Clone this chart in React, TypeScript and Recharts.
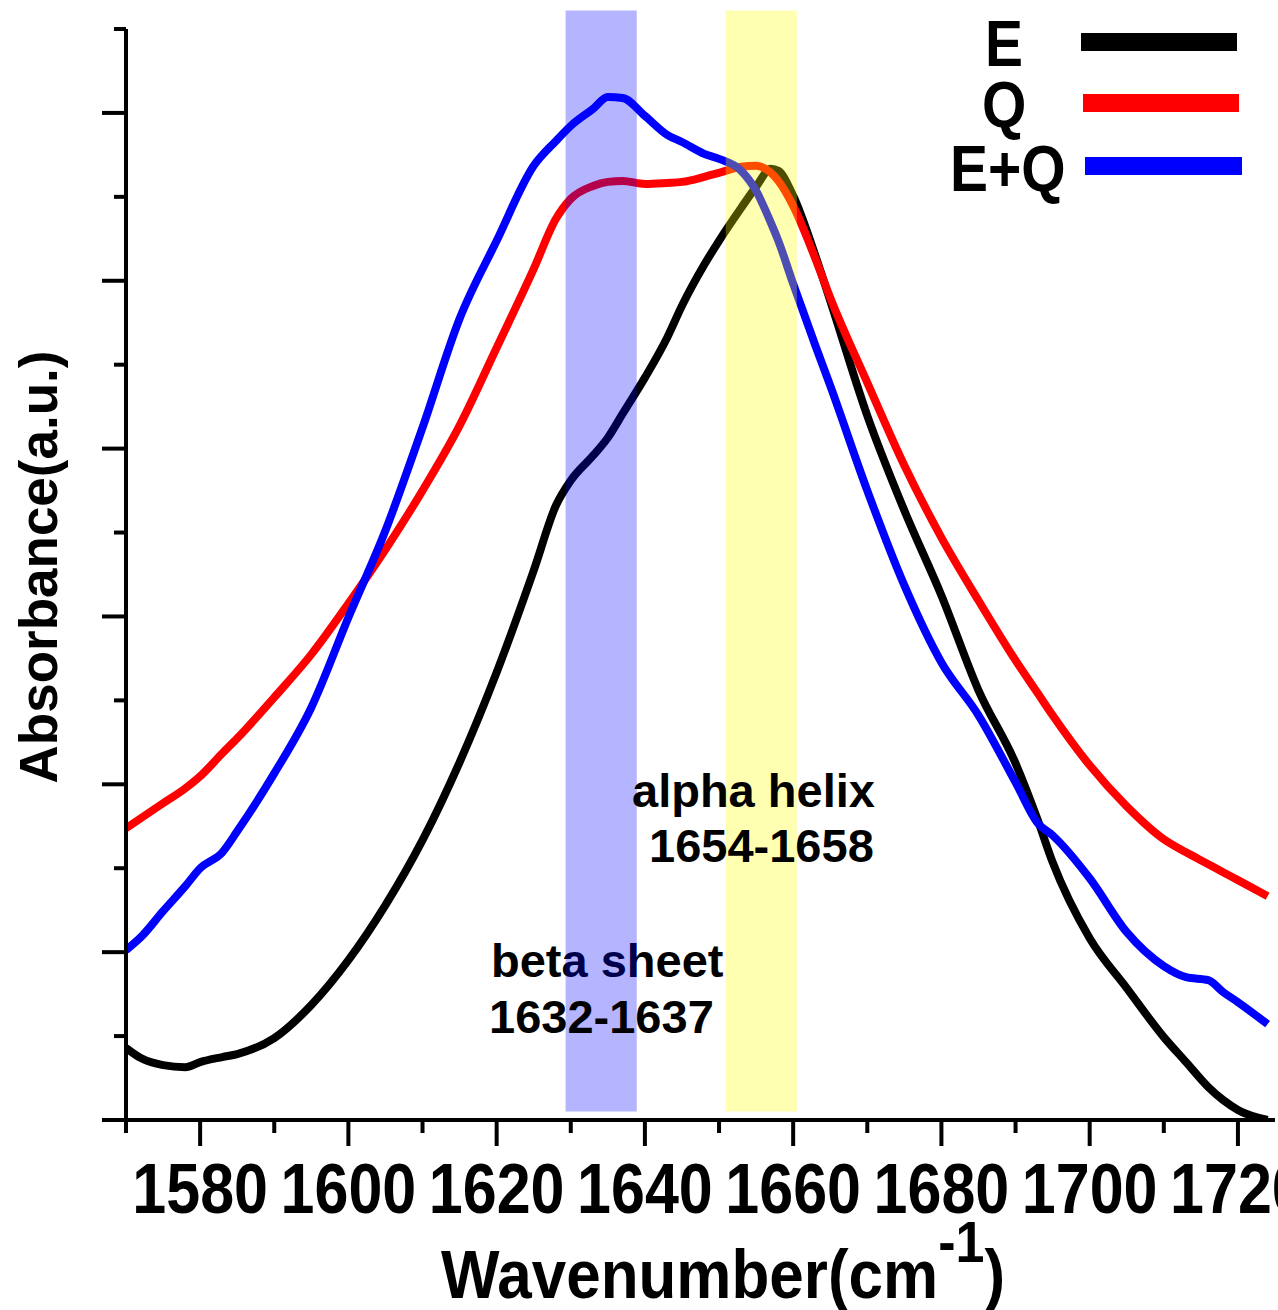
import React from 'react';
import { LineChart, Line, XAxis, YAxis, ReferenceArea } from 'recharts';

const wavenumbers = [
  1570, 1572, 1575, 1578, 1580, 1583, 1585, 1590, 1595, 1600, 1605, 1610, 1615, 1620, 1625, 1628,
  1630, 1633, 1635, 1637, 1640, 1643, 1645, 1648, 1650, 1653, 1655, 1657, 1658, 1660, 1663, 1665,
  1670, 1675, 1680, 1685, 1690, 1693, 1695, 1700, 1705, 1710, 1713, 1716, 1718, 1720, 1724,
];

const absE = [
  0.429, 0.369, 0.327, 0.315, 0.345, 0.375, 0.393, 0.488, 0.685, 0.952, 1.28, 1.667, 2.131, 2.667, 3.274, 3.661,
  3.81, 3.958, 4.065, 4.208, 4.423, 4.661, 4.851, 5.095, 5.238, 5.435, 5.56, 5.667, 5.655, 5.506, 5.149, 4.881,
  4.196, 3.631, 3.125, 2.56, 2.125, 1.786, 1.536, 1.083, 0.786, 0.494, 0.345, 0.196, 0.119, 0.06, 0.0,
];

const absQ = [
  1.738, 1.798, 1.887, 1.976, 2.048, 2.185, 2.274, 2.518, 2.774, 3.077, 3.399, 3.75, 4.137, 4.601, 5.071, 5.369,
  5.488, 5.565, 5.589, 5.595, 5.577, 5.583, 5.589, 5.619, 5.643, 5.679, 5.685, 5.643, 5.595, 5.446, 5.131, 4.899,
  4.393, 3.899, 3.47, 3.095, 2.738, 2.542, 2.411, 2.113, 1.869, 1.673, 1.595, 1.524, 1.476, 1.429, 1.333,
];

const absEQ = [
  1.012, 1.089, 1.244, 1.393, 1.5, 1.595, 1.72, 2.065, 2.458, 2.994, 3.512, 4.125, 4.774, 5.238, 5.685, 5.833,
  5.923, 6.024, 6.095, 6.089, 5.982, 5.869, 5.827, 5.756, 5.726, 5.655, 5.536, 5.345, 5.238, 4.982, 4.613, 4.375,
  3.75, 3.185, 2.726, 2.411, 2.012, 1.768, 1.696, 1.44, 1.119, 0.917, 0.851, 0.833, 0.762, 0.702, 0.571,
];

const xTicks = [1570, 1580, 1590, 1600, 1610, 1620, 1630, 1640, 1650, 1660, 1670, 1680, 1690, 1700, 1710, 1720];
const yTicks = [0, 0.5, 1, 1.5, 2, 2.5, 3, 3.5, 4, 4.5, 5, 5.5, 6, 6.5];

const betaBand = [1629.3, 1638.9];
const alphaBand = [1650.9, 1660.5];

const data = wavenumbers.map((w, i) => ({ w, E: absE[i], Q: absQ[i], EQ: absEQ[i] }));

const FONT = '"Liberation Sans", Arial, sans-serif';

const XTick = (props: any) => {
  const { x, y, payload } = props;
  const v = payload.value;
  const major = v % 20 === 0;
  return (
    <g>
      <line x1={x} x2={x} y1={y} y2={y + (major ? 26 : 13)} stroke="#000" strokeWidth={4} />
      {major && (
        <text
          transform={`translate(${x},${y + 93}) scale(1,1.15)`}
          textAnchor="middle"
          fontFamily={FONT}
          fontWeight="bold"
          fontSize={61}
          fill="#000"
        >
          {v}
        </text>
      )}
    </g>
  );
};

const YTick = (props: any) => {
  const { x, y, payload } = props;
  const major = Number.isInteger(payload.value);
  return <line x1={x - (major ? 24 : 12)} x2={x} y1={y} y2={y} stroke="#000" strokeWidth={4} />;
};

const txt = { fontFamily: FONT, fontWeight: 'bold' as const, fill: '#000' };

export default function App() {
  return (
    <div style={{ position: 'absolute', left: 0, top: 0, width: 1278, height: 1310, background: '#fff' }}>
      <svg width={1278} height={1310} style={{ position: 'absolute', left: 0, top: 0 }}>
        <text x={491} y={977} fontSize={47} {...txt}>beta sheet</text>
      </svg>
      <div style={{ position: 'absolute', left: 0, top: 0 }}>
        <LineChart width={1278} height={1310} data={data} margin={{ top: 29, right: 3, left: 0, bottom: 0 }}>
          <XAxis
            dataKey="w"
            type="number"
            domain={[1570, 1725]}
            ticks={xTicks}
            interval={0}
            allowDataOverflow
            height={190}
            tickSize={0}
            tickMargin={0}
            tickLine={false}
            axisLine={{ stroke: '#000', strokeWidth: 4 }}
            tick={<XTick />}
          />
          <YAxis
            type="number"
            domain={[0, 6.5]}
            ticks={yTicks}
            interval={0}
            allowDataOverflow
            width={126}
            tickSize={0}
            tickMargin={0}
            tickLine={false}
            axisLine={{ stroke: '#000', strokeWidth: 4 }}
            tick={<YTick />}
          />
          <Line type="monotone" dataKey="E" stroke="#000000" strokeWidth={8} dot={false} isAnimationActive={false} />
          <Line type="monotone" dataKey="Q" stroke="#ff0000" strokeWidth={8} dot={false} isAnimationActive={false} />
          <Line type="monotone" dataKey="EQ" stroke="#0000ff" strokeWidth={8} dot={false} isAnimationActive={false} />
          <ReferenceArea
            x1={betaBand[0]}
            x2={betaBand[1]}
            y1={0.05}
            y2={6.61}
            fill="#0000ff"
            fillOpacity={0.29}
            stroke="none"
            ifOverflow="visible"
            zIndex={450}
          />
          <ReferenceArea
            x1={alphaBand[0]}
            x2={alphaBand[1]}
            y1={0.05}
            y2={6.61}
            fill="#ffff00"
            fillOpacity={0.3}
            stroke="none"
            ifOverflow="visible"
            zIndex={450}
          />
        </LineChart>
      </div>
      <svg width={1278} height={1310} style={{ position: 'absolute', left: 0, top: 0, pointerEvents: 'none' }}>
        <text x={489} y={1033} fontSize={47} {...txt}>1632-1637</text>
        <text x={632} y={807} fontSize={47} {...txt}>alpha helix</text>
        <text x={649} y={862} fontSize={47} {...txt}>1654-1658</text>

        <line x1={1081} x2={1237} y1={42} y2={42} stroke="#000000" strokeWidth={18} />
        <line x1={1083} x2={1239} y1={103} y2={103} stroke="#ff0000" strokeWidth={18} />
        <line x1={1085} x2={1242} y1={166} y2={166} stroke="#0000ff" strokeWidth={18} />
        <text transform="translate(985,66) scale(1,1.15)" fontSize={57} {...txt}>E</text>
        <text transform="translate(982,127) scale(1,1.15)" fontSize={57} {...txt}>Q</text>
        <text transform="translate(950,191) scale(1,1.15)" fontSize={57} {...txt}>E+Q</text>

        <text transform="translate(57,567) rotate(-90)" textAnchor="middle" fontSize={53} {...txt}>
          Absorbance(a.u.)
        </text>
        <text transform="translate(441,1298) scale(1,1.12)" fontSize={62} {...txt}>
          Wavenumber(cm
          <tspan dy={-32} fontSize={52}>-1</tspan>
          <tspan dy={32}>)</tspan>
        </text>
      </svg>
    </div>
  );
}
